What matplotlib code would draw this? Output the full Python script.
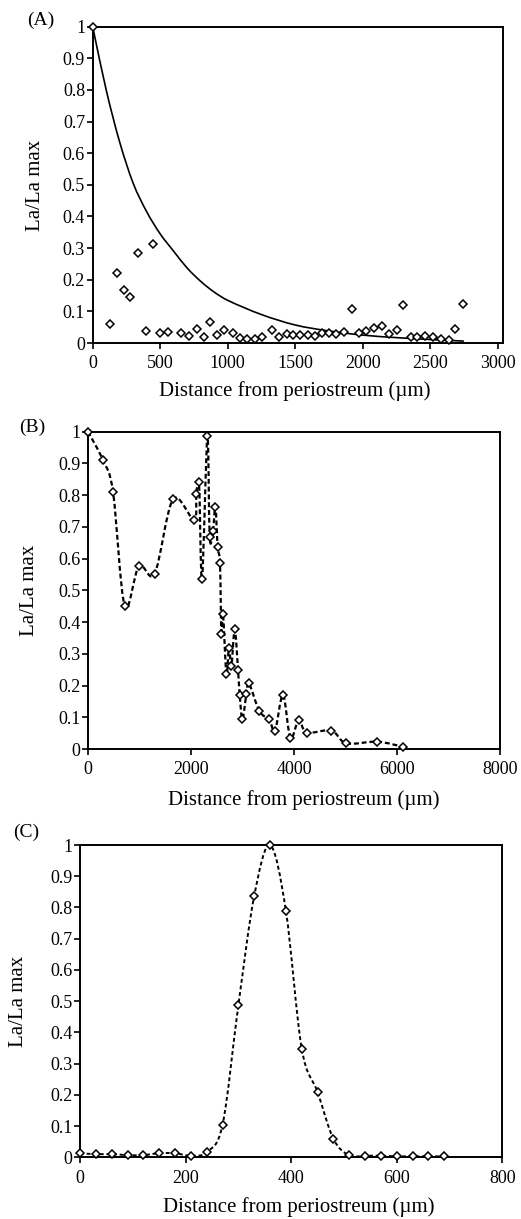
import numpy as np
import matplotlib
matplotlib.use("Agg")
import matplotlib.pyplot as plt
from matplotlib.path import Path
from matplotlib.patches import PathPatch

plt.rcParams['font.family'] = ['Liberation Serif', 'DejaVu Serif']

# panel A: measured points and fitted curve
a_x = [0, 126, 179, 229, 278, 336, 398, 447, 502, 555, 652, 717, 773, 826, 867, 922,
       976, 1036, 1092, 1145, 1200, 1255, 1327, 1381, 1437, 1486, 1536, 1592, 1650,
       1700, 1749, 1805, 1861, 1922, 1976, 2025, 2087, 2143, 2192, 2251, 2300, 2356,
       2400, 2461, 2520, 2584, 2638, 2687, 2743]
a_y = [1.0, 0.06, 0.22, 0.168, 0.147, 0.283, 0.038, 0.312, 0.033, 0.035, 0.031, 0.023,
       0.044, 0.018, 0.066, 0.024, 0.041, 0.033, 0.017, 0.014, 0.014, 0.019, 0.040,
       0.018, 0.030, 0.024, 0.024, 0.024, 0.021, 0.032, 0.032, 0.027, 0.034, 0.109,
       0.032, 0.037, 0.046, 0.053, 0.027, 0.040, 0.120, 0.018, 0.018, 0.021, 0.018,
       0.013, 0.009, 0.043, 0.122]
# fitted curve
fit_x = [0, 100, 200, 300, 400, 500, 600, 700, 800, 900, 1000, 1250, 1500, 1750,
         2000, 2250, 2500, 2750]
fit_y = [1.0, 0.80, 0.635, 0.505, 0.415, 0.345, 0.29, 0.237, 0.195, 0.161, 0.135,
         0.09, 0.057, 0.038, 0.025, 0.017, 0.011, 0.006]

# panel B
b_x = [0, 291, 486, 713, 990, 1295, 1651, 2058, 2105, 2156, 2214, 2318, 2363, 2427,
       2474, 2518, 2563, 2590, 2622, 2687, 2738, 2784, 2849, 2913, 2946, 2998, 3075,
       3126, 3328, 3520, 3631, 3786, 3930, 4091, 4252, 4726, 5017, 5619, 6117]
b_y = [1.0, 0.91, 0.81, 0.45, 0.577, 0.553, 0.787, 0.722, 0.805, 0.841, 0.536, 0.985,
       0.668, 0.688, 0.764, 0.636, 0.585, 0.361, 0.424, 0.236, 0.319, 0.262, 0.377,
       0.250, 0.170, 0.094, 0.172, 0.207, 0.119, 0.093, 0.057, 0.170, 0.035, 0.090,
       0.052, 0.058, 0.018, 0.023, 0.007]

# panel C
c_x = [0, 30, 60, 90, 120, 150, 180, 210, 240, 270, 300, 330, 360, 390, 420, 450, 480,
       510, 540, 570, 600, 630, 660, 690]
c_y = [0.013, 0.010, 0.010, 0.007, 0.007, 0.013, 0.013, 0.005, 0.017, 0.104, 0.487,
       0.837, 1.0, 0.79, 0.348, 0.209, 0.059, 0.006, 0.005, 0.005, 0.003, 0.003, 0.003,
       0.003]

y_ticks = [0, 0.1, 0.2, 0.3, 0.4, 0.5, 0.6, 0.7, 0.8, 0.9, 1]
y_labels = ['0', '0.1', '0.2', '0.3', '0.4', '0.5', '0.6', '0.7', '0.8', '0.9', '1']
a_xticks = [0, 500, 1000, 1500, 2000, 2500, 3000]
b_xticks = [0, 2000, 4000, 6000, 8000]
c_xticks = [0, 200, 400, 600, 800]

W, H = 521, 1219


def fx(px):
    return px / W


def fy(py):
    return 1 - py / H


def smooth(x, y, by_x=False):
    # Excel-like smoothed line (Catmull-Rom as bezier segments)
    # by_x: tangents taken as dy/dx, for unevenly spaced x
    pts = np.column_stack([x, y]).astype(float)
    verts = [pts[0]]
    codes = [Path.MOVETO]
    n = len(pts)

    def tangent(i):
        a = pts[max(i - 1, 0)]
        b = pts[min(i + 1, n - 1)]
        return b - a

    for i in range(n - 1):
        p1, p2 = pts[i], pts[i + 1]
        t1, t2 = tangent(i), tangent(i + 1)
        if by_x:
            h = p2[0] - p1[0]
            c1 = p1 + t1 / t1[0] * h / 3
            c2 = p2 - t2 / t2[0] * h / 3
        else:
            c1 = p1 + t1 / 6
            c2 = p2 - t2 / 6
        verts += [c1, c2, p2]
        codes += [Path.CURVE4] * 3
    return Path(verts, codes)


def style(ax, xmax, xticks):
    ax.set_xlim(0, xmax)
    ax.set_ylim(0, 1)
    ax.set_yticks(y_ticks)
    ax.set_yticklabels(y_labels)
    ax.set_xticks(xticks)
    ax.set_xticklabels([str(t) for t in xticks])
    ax.tick_params(direction='out', length=4, width=1.2, labelsize=13, colors='k')
    ax.tick_params(axis='y', pad=1.5)
    ax.tick_params(axis='x', pad=5)
    for s in ax.spines.values():
        s.set_linewidth(1.4)
        s.set_color('k')


fig = plt.figure(figsize=(W / 100, H / 100), dpi=100)

# (A)
axA = fig.add_axes([fx(92.7), fy(343), fx(503) - fx(92.7), (343 - 26.7) / H])
style(axA, 3040, a_xticks)
axA.add_patch(PathPatch(smooth(fit_x, fit_y, by_x=True), fill=False, edgecolor='k', lw=1.2))
axA.plot(a_x, a_y, 'D', mfc='white', mec='k', ms=4.5, mew=1.1, clip_on=False, zorder=3)

# (B)
axB = fig.add_axes([fx(88), fy(749), fx(500) - fx(88), (749 - 431.7) / H])
style(axB, 8000, b_xticks)
axB.add_patch(PathPatch(smooth(b_x, b_y), fill=False, edgecolor='k', lw=1.6,
                        linestyle=(0, (2.2, 1.3))))
axB.plot(b_x, b_y, 'D', mfc='white', mec='k', ms=3.8, mew=1.1, clip_on=False, zorder=3)

# (C)
axC = fig.add_axes([fx(80), fy(1157.3), fx(502.3) - fx(80), (1157.3 - 845) / H])
style(axC, 800, c_xticks)
axC.add_patch(PathPatch(smooth(c_x, c_y), fill=False, edgecolor='k', lw=1.4,
                        linestyle=(0, (2.0, 1.4))))
axC.plot(c_x, c_y, 'D', mfc='white', mec='k', ms=3.8, mew=1.1, clip_on=False, zorder=3)

xlab = 'Distance from periostreum (\u00b5m)'
ylab = 'La/La max'
for tag, (tx, ty), (xx, xy), (yx, yy) in [
        ('(A)', (41, 20), (295, 391), (36, 185)),
        ('(B)', (32, 427), (304, 800), (29, 590)),
        ('(C)', (26, 832), (299, 1207), (19, 1001))]:
    fig.text(fx(tx), fy(ty), tag, ha='center', va='center', fontsize=14)
    fig.text(fx(xx), fy(xy), xlab, ha='center', va='center', fontsize=15)
    fig.text(fx(yx), fy(yy), ylab, ha='center', va='center', fontsize=15, rotation=90)

fig.savefig('out.png', dpi=100)
